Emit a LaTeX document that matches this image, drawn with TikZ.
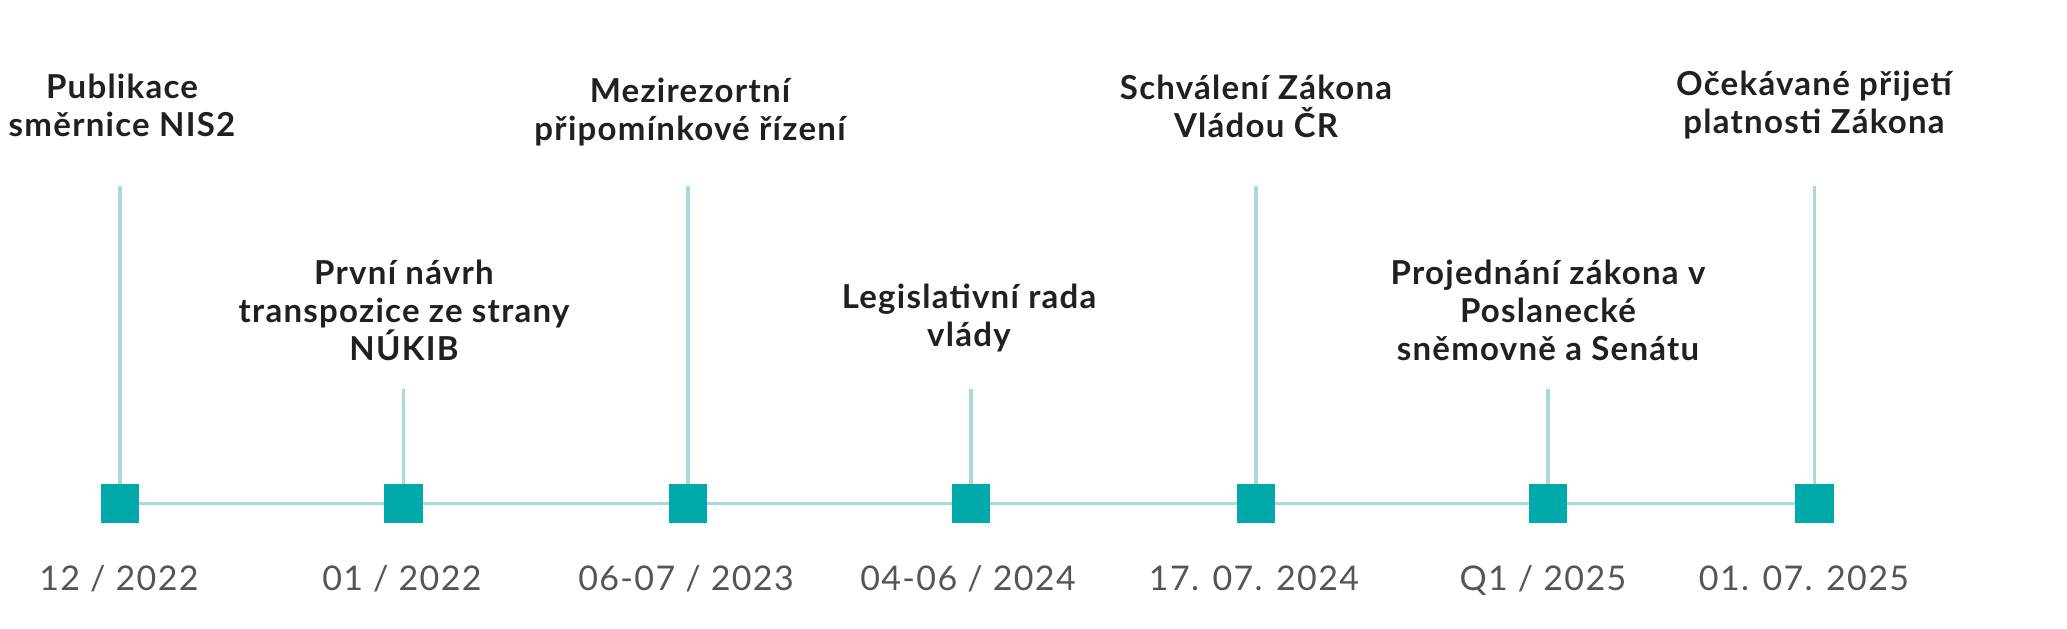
\documentclass[tikz,border=0pt]{standalone}
\usepackage{fontspec}
\setmainfont{Lato}
\definecolor{teal1}{HTML}{00AAAA}
\definecolor{tline}{HTML}{A9D9DC}
\definecolor{ink}{HTML}{231F20}
\definecolor{dgray}{HTML}{555555}
\tikzset{
  mark box/.style={rectangle, fill=teal1, minimum size=38pt, inner sep=0pt},
  conn/.style={draw=tline, line width=3.5pt},
  evlabel/.style={align=center, anchor=base, text=ink, inner sep=0pt,
    font=\fontsize{33}{38}\selectfont\bfseries\addfontfeature{LetterSpace=3.8}},
  datelabel/.style={anchor=base, text=dgray, inner sep=0pt,
    font=\fontsize{34}{38}\selectfont\addfontfeature{LetterSpace=4}}
}
\begin{document}
\begin{tikzpicture}[x=1pt,y=-1pt]
\useasboundingbox (0,0) rectangle (2067,629);
% top ends of the stems
\coordinate (t1) at (120,186);
\coordinate (t2) at (403.5,389);
\coordinate (t3) at (688,186);
\coordinate (t4) at (971,389);
\coordinate (t5) at (1256,186);
\coordinate (t6) at (1548,389);
\coordinate (t7) at (1814.5,186);
% markers
\node[mark box] (s1) at (120,503.5) {};
\node[mark box] (s2) at (403.5,503.5) {};
\node[mark box] (s3) at (688,503.5) {};
\node[mark box] (s4) at (971,503.5) {};
\node[mark box] (s5) at (1256,503.5) {};
\node[mark box] (s6) at (1548,503.5) {};
\node[mark box] (s7) at (1814.5,503.5) {};
% connectors
\path[conn] (s1.center) -- (s7.center);
\foreach \i in {1,...,7} { \path[conn] (t\i) -- (s\i.center); }
% redraw markers on top
\foreach \i in {1,...,7} { \fill[teal1] (s\i.south west) rectangle (s\i.north east); }
% event labels (base = baseline of last line)
\node[evlabel] (e1) at (122,136) {Publikace\\směrnice NIS2};
\node[evlabel] (e2) at (404,360) {První návrh\\transpozice ze strany\\NÚKIB};
\node[evlabel] (e3) at (690,140) {Mezirezortní\\připomínkové řízení};
\node[evlabel] (e4) at (969,346) {Legislativní rada\\vlády};
\node[evlabel] (e5) at (1256,137) {Schválení Zákona\\Vládou ČR};
\node[evlabel] (e6) at (1548,360) {Projednání zákona v\\Poslanecké\\sněmovně a Senátu};
\node[evlabel] (e7) at (1814,133) {Očekávané přijetí\\platnosti Zákona};
% dates
\node[datelabel] (d1) at (119,590) {12 / 2022};
\node[datelabel] (d2) at (402,590) {01 / 2022};
\node[datelabel] (d3) at (686,590) {06-07 / 2023};
\node[datelabel] (d4) at (968,590) {04-06 / 2024};
\node[datelabel] (d5) at (1254,590) {17. 07. 2024};
\node[datelabel] (d6) at (1543,590) {Q1 / 2025};
\node[datelabel] (d7) at (1804,590) {01. 07. 2025};
\end{tikzpicture}
\end{document}
